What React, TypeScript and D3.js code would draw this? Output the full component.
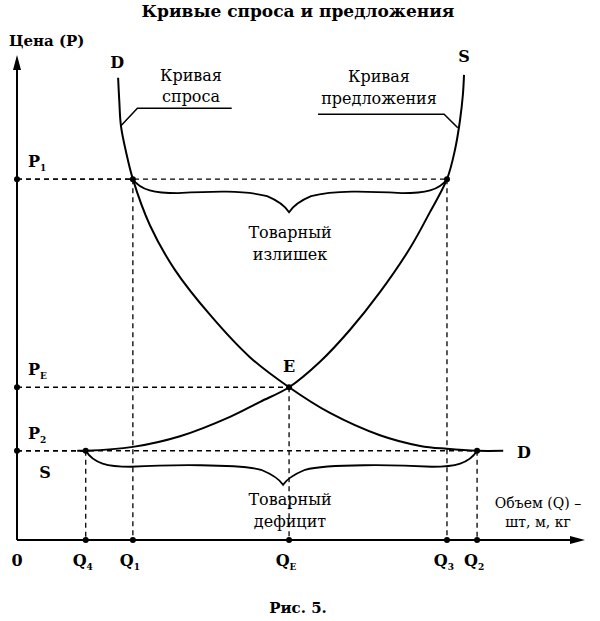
import React from 'react';
import * as d3 from 'd3';

// Кривая спроса (Q, P) в условных единицах 0..100
const demandQ = [17.8, 18.0, 18.3, 19.2, 20.4, 23.4, 27.8, 34.0, 41.0, 47.9, 55.1, 63.9, 71.0, 75.7, 81.0, 85.6];
const demandP = [95.3, 90.7, 85.4, 80.0, 74.4, 64.9, 55.7, 46.4, 37.7, 31.5, 26.2, 21.6, 19.4, 18.8, 18.4, 18.4];

// Кривая предложения
const supplyQ = [10.6, 12.1, 20.4, 28.7, 37.5, 42.8, 47.9, 53.3, 58.6, 63.9, 69.2, 72.7, 75.7, 77.1, 78.0, 78.5, 78.7];
const supplyP = [18.4, 18.4, 19.2, 21.4, 25.4, 28.5, 31.5, 36.7, 43.3, 51.1, 60.2, 67.6, 74.4, 80.4, 86.6, 91.8, 95.9];

// отметки на осях
const qTicks = [
  { key: 'Q4', base: 'Q', sub: '4', q: 12.1 },
  { key: 'Q1', base: 'Q', sub: '1', q: 20.4 },
  { key: 'QE', base: 'Q', sub: 'E', q: 47.9 },
  { key: 'Q3', base: 'Q', sub: '3', q: 75.7 },
  { key: 'Q2', base: 'Q', sub: '2', q: 81.0 },
];
const pTicks = [
  { key: 'P1', base: 'P', sub: '1', p: 74.4 },
  { key: 'PE', base: 'P', sub: 'E', p: 31.5 },
  { key: 'P2', base: 'P', sub: '2', p: 18.4 },
];

// какие пересечения соединяются пунктиром: [q, p]
const guides = [
  [20.4, 74.4], [75.7, 74.4], [47.9, 31.5], [12.1, 18.4], [81.0, 18.4],
];

const W = 600;
const H = 621;
const FONT = '"DejaVu Serif", "Liberation Serif", serif';

export default function App() {
  const x = d3.scaleLinear().domain([0, 100]).range([17, 585]);
  const y = d3.scaleLinear().domain([0, 100]).range([540, 55]);

  const line = d3.line<[number, number]>()
    .x(d => x(d[0]))
    .y(d => y(d[1]))
    .curve(d3.curveCatmullRom.alpha(0.5));

  const demand = demandQ.map((q, i) => [q, demandP[i]] as [number, number]);
  const supply = supplyQ.map((q, i) => [q, supplyP[i]] as [number, number]);

  // фигурная скобка вниз между x0 и x1 на уровне y0
  const brace = (x0: number, x1: number, y0: number, xm: number, flat: number, tip: number) => {
    const p = d3.path();
    p.moveTo(x0, y0);
    p.bezierCurveTo(x0 + 8, y0 + flat * 0.8, x0 + 22, y0 + flat, x0 + 45, y0 + flat);
    p.bezierCurveTo(x0 + 80, y0 + flat - 2, xm - 45, y0 + flat - 3, xm - 22, y0 + flat + 3);
    p.bezierCurveTo(xm - 10, y0 + flat + 8, xm - 4, y0 + tip - 6, xm, y0 + tip);
    p.bezierCurveTo(xm + 4, y0 + tip - 6, xm + 10, y0 + flat + 8, xm + 22, y0 + flat + 3);
    p.bezierCurveTo(xm + 45, y0 + flat - 3, x1 - 80, y0 + flat - 2, x1 - 45, y0 + flat);
    p.bezierCurveTo(x1 - 22, y0 + flat, x1 - 8, y0 + flat * 0.8, x1, y0);
    return p.toString();
  };

  const x0 = x(0);
  const y0 = y(0);

  return (
    <svg width={W} height={H} style={{ position: 'absolute', left: 0, top: 0, background: '#fff' }}>
      <rect width={W} height={H} fill="#fff" />
      <g fontFamily={FONT} fill="#000">
        <text x={298} y={17} textAnchor="middle" fontWeight="bold" fontSize={17}>
          Кривые спроса и предложения
        </text>
        <text x={9} y={46} fontWeight="bold" fontSize={15}>Цена (P)</text>
      </g>

      {/* пунктирные направляющие */}
      <g stroke="#000" strokeWidth={1.3} strokeDasharray="5,4" fill="none">
        {guides.map(([q, p], i) => (
          <g key={i}>
            <line x1={x0} x2={x(q)} y1={y(p)} y2={y(p)} />
            <line x1={x(q)} x2={x(q)} y1={y(p)} y2={y0} />
          </g>
        ))}
      </g>

      {/* оси */}
      <g stroke="#000" strokeWidth={2} fill="none">
        <line x1={x0} y1={y0} x2={x0} y2={y(100) + 10} />
        <line x1={x0} y1={y0} x2={x(100) - 10} y2={y0} />
      </g>
      <path d={`M${x0},${y(100)} L${x0 - 4},${y(100) + 15} L${x0 + 4},${y(100) + 15} Z`} fill="#000" />
      <path d={`M${x(100)},${y0} L${x(100) - 15},${y0 - 4} L${x(100) - 15},${y0 + 4} Z`} fill="#000" />

      {/* кривые */}
      <path d={line(demand) ?? ''} fill="none" stroke="#000" strokeWidth={2} />
      <path d={line(supply) ?? ''} fill="none" stroke="#000" strokeWidth={2} />

      {/* скобки */}
      <g fill="none" stroke="#000" strokeWidth={1.8}>
        <path d={brace(x(20.4), x(75.7), y(74.4), x(47.9), 14, 33)} />
        <path d={brace(x(12.1), x(81.0), y(18.4), x(47.9) - 6, 16, 34)} />
      </g>

      {/* выноски */}
      <g fill="none" stroke="#000" strokeWidth={1.5}>
        <polyline points={`${x(18.3)},${y(85.4)} ${x(21.2)},${y(89)} ${x(37.8)},${y(89)}`} />
        <polyline points={`${x(53)},${y(87.8)} ${x(75.2)},${y(87.8)} ${x(77.6)},${y(85)}`} />
      </g>

      {/* точки */}
      <g fill="#000">
        {qTicks.map(t => <circle key={t.key} cx={x(t.q)} cy={y0} r={3} />)}
        {pTicks.map(t => <circle key={t.key} cx={x0} cy={y(t.p)} r={3} />)}
        {guides.map(([q, p], i) => <circle key={i} cx={x(q)} cy={y(p)} r={3} />)}
      </g>

      {/* подписи */}
      <g fontFamily={FONT} fill="#000">
        <text x={17} y={566} textAnchor="middle" fontWeight="bold" fontSize={16}>0</text>
        {qTicks.map(t => (
          <text key={t.key} x={x(t.q) - 3} y={566} textAnchor="middle" fontWeight="bold" fontSize={16}>
            {t.base}<tspan fontSize={9} dy={4}>{t.sub}</tspan>
          </text>
        ))}
        {pTicks.map(t => (
          <text key={t.key} x={28} y={y(t.p) - 12} fontWeight="bold" fontSize={16}>
            {t.base}<tspan fontSize={9} dy={4}>{t.sub}</tspan>
          </text>
        ))}

        <text x={x(17.8) - 1} y={68} textAnchor="middle" fontWeight="bold" fontSize={16}>D</text>
        <text x={x(78.7)} y={62} textAnchor="middle" fontWeight="bold" fontSize={16}>S</text>
        <text x={524} y={458} textAnchor="middle" fontWeight="bold" fontSize={16}>D</text>
        <text x={45} y={478} textAnchor="middle" fontWeight="bold" fontSize={16}>S</text>
        <text x={x(47.9)} y={372} textAnchor="middle" fontWeight="bold" fontSize={16}>E</text>

        <g fontSize={16} textAnchor="middle">
          <text x={191} y={81}>Кривая</text>
          <text x={191} y={102}>спроса</text>
          <text x={379} y={82}>Кривая</text>
          <text x={379} y={104}>предложения</text>
          <text x={290} y={238}>Товарный</text>
          <text x={290} y={260}>излишек</text>
          <text x={290} y={505}>Товарный</text>
          <text x={290} y={527}>дефицит</text>
        </g>
        <g fontSize={14} textAnchor="middle">
          <text x={538} y={508}>Объем (Q) –</text>
          <text x={538} y={527}>шт, м, кг</text>
        </g>

        <text x={298} y={613} textAnchor="middle" fontWeight="bold" fontSize={15}>Рис. 5.</text>
      </g>
    </svg>
  );
}
